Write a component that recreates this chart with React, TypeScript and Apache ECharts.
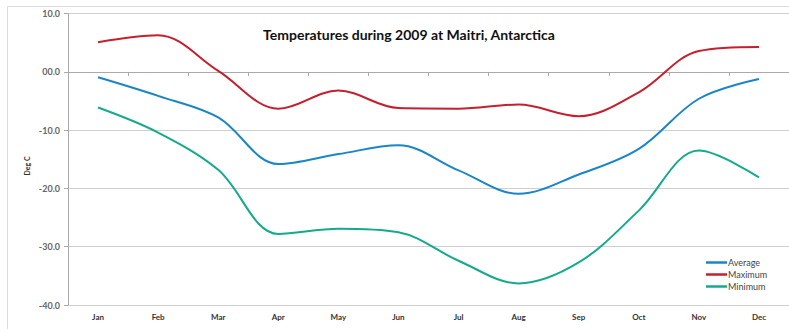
import React, { useEffect, useRef } from "react";
import * as echarts from "echarts";

const months = ["Jan", "Feb", "Mar", "Apr", "May", "Jun", "Jul", "Aug", "Sep", "Oct", "Nov", "Dec"];
const averageTemps = [-0.9, -4.1, -7.8, -15.8, -14.1, -12.6, -16.9, -20.9, -17.6, -13.2, -4.6, -1.2];
const maximumTemps = [5.1, 6.3, 0.2, -6.3, -3.2, -6.2, -6.3, -5.6, -7.6, -3.5, 3.6, 4.3];
const minimumTemps = [-6.1, -10.4, -16.8, -27.8, -26.9, -27.5, -32.4, -36.3, -32.7, -23.8, -13.5, -18.1];

const seriesNames = ["Average", "Maximum", "Minimum"];
const seriesColors = ["#1a86c6", "#c4202f", "#15aa8b"];

export default function App() {
  const ref = useRef<HTMLDivElement>(null);

  useEffect(() => {
    if (!ref.current) return;
    const chart = echarts.init(ref.current, null, { renderer: "svg" });
    const values = [averageTemps, maximumTemps, minimumTemps];
    chart.setOption({
      animation: false,
      backgroundColor: "#ffffff",
      title: {
        text: "Temperatures during 2009 at Maitri, Antarctica",
        left: 404,
        textAlign: "center",
        top: 22,
        textStyle: { fontFamily: "Lato", fontWeight: "bold", fontSize: 14, color: "#111" },
      },
      grid: { left: 68, top: 13.7, width: 726, height: 291.3, containLabel: false },
      legend: {
        orient: "vertical",
        left: 701,
        top: 253,
        icon: "rect",
        itemWidth: 21,
        itemHeight: 2.5,
        itemGap: 3,
        textStyle: { fontFamily: "Lato", fontSize: 9, color: "#444", padding: [0, 0, 0, -4] },
        data: seriesNames,
      },
      xAxis: {
        type: "category",
        data: months,
        boundaryGap: true,
        axisLine: { lineStyle: { color: "#aaa", width: 1 } },
        axisTick: { show: true, length: 4, lineStyle: { color: "#aaa" } },
        axisLabel: { fontFamily: "Lato", fontWeight: "bold", fontSize: 8, color: "#333", margin: 8 },
      },
      yAxis: {
        type: "value",
        min: -40,
        max: 10,
        interval: 10,
        axisLine: { show: true, lineStyle: { color: "#aaa", width: 1 } },
        axisTick: { show: true, length: 4, lineStyle: { color: "#aaa" } },
        splitLine: { lineStyle: { color: "#cfcfcf", width: 1 } },
        axisLabel: {
          fontFamily: "Lato",
          fontWeight: "bold",
          fontSize: 9,
          color: "#666",
          margin: 8,
          formatter: (v: number) => (v === 0 ? "00.0" : v.toFixed(1)),
        },
      },
      graphic: [
        {
          type: "rect",
          shape: { x: 7.5, y: 6.5, width: 820, height: 400 },
          style: { fill: "none", stroke: "#dcdcdc", lineWidth: 1 },
          silent: true,
        },
        {
          type: "text",
          x: 27,
          y: 166,
          rotation: Math.PI / 2,
          style: {
            text: "Deg C",
            fontFamily: "Lato",
            fontWeight: "bold",
            fontSize: 7,
            fill: "#333",
            align: "center",
            verticalAlign: "middle",
          },
        },
      ],
      series: seriesNames.map((name, i) => ({
        name,
        type: "line",
        data: values[i],
        smooth: 0.35,
        symbol: "none",
        lineStyle: { color: seriesColors[i], width: 2 },
        itemStyle: { color: seriesColors[i] },
      })),
    });
    return () => chart.dispose();
  }, []);

  return <div ref={ref} style={{ position: "fixed", left: 0, top: 0, width: 789, height: 329 }} />;
}
